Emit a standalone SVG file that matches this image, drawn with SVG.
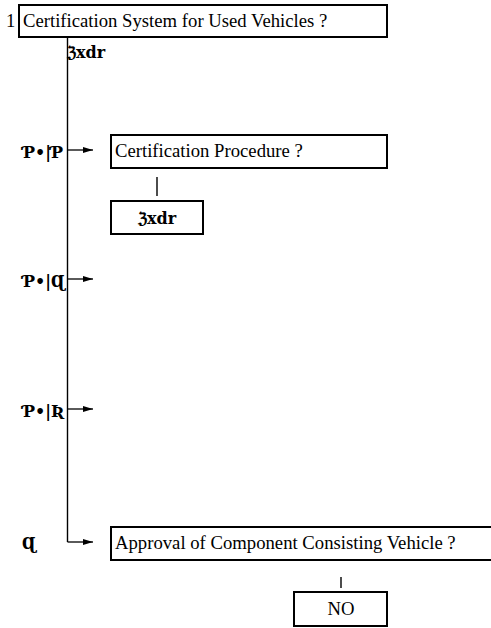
<svg xmlns="http://www.w3.org/2000/svg" width="491" height="628" viewBox="0 0 491 628">
  <defs>
    <marker id="head" viewBox="0 0 10 8" refX="10" refY="4" markerWidth="10" markerHeight="8" markerUnits="userSpaceOnUse" orient="auto">
      <path d="M0,1 L10,4 L0,7 Z" fill="#000"/>
    </marker>
  </defs>
  <style>
    .box { fill: #fff; stroke: #000; stroke-width: 2; }
    .txt { font-family: "Liberation Serif", "Times New Roman", serif; font-size: 18.7px; fill: #000; }
    .sym { font-family: "DejaVu Serif", "Liberation Serif", serif; font-size: 16px; font-weight: bold; fill: #000; }
    .wire { fill: none; stroke: #000; stroke-width: 1.4; }
    .arrow { fill: none; stroke: #000; stroke-width: 1.3; marker-end: url(#head); }
  </style>
  <rect width="491" height="628" fill="#fff"/>

  <!-- connectors -->
  <g id="connectors">
    <path class="wire" d="M67.5,37 V542"/>
    <path class="arrow" d="M67.5,542 H93"/>
    <path class="arrow" d="M67.5,150 H93"/>
    <path class="arrow" d="M67.5,279 H93"/>
    <path class="arrow" d="M67.5,409 H93"/>
    <path class="wire" d="M157,177 V196"/>
    <path class="wire" d="M341,577 V588"/>
  </g>

  <!-- root -->
  <g id="root">
    <text class="txt" x="6" y="27">1</text>
    <rect class="box" x="19" y="5" width="368" height="32"/>
    <text class="txt" x="23" y="27">Certification System for Used Vehicles ?</text>
    <text class="sym" x="67" y="58">ℨxdr</text>
  </g>

  <!-- branch labels -->
  <g id="label-1"><text class="sym" x="23" y="158">Ƥ•|Ƥ</text></g>
  <g id="label-2"><text class="sym" x="23" y="287">Ƥ•|Ɋ</text></g>
  <g id="label-3"><text class="sym" x="23" y="417">Ƥ•|Ʀ</text></g>
  <g id="label-4"><text class="sym" x="22" y="549">Ɋ</text></g>

  <!-- certification procedure -->
  <g id="procedure">
    <rect class="box" x="111" y="135" width="276" height="33"/>
    <text class="txt" x="115" y="157">Certification Procedure ?</text>
  </g>
  <g id="procedure-answer">
    <rect class="box" x="111" y="201" width="92" height="33"/>
    <text class="sym" x="157" y="224" text-anchor="middle">ℨxdr</text>
  </g>

  <!-- component approval -->
  <g id="approval">
    <rect class="box" x="111" y="527" width="400" height="33"/>
    <text class="txt" x="115" y="549">Approval of Component Consisting Vehicle ?</text>
  </g>
  <g id="approval-answer">
    <rect class="box" x="294" y="592" width="93" height="34"/>
    <text class="txt" x="341" y="615" text-anchor="middle">NO</text>
  </g>
</svg>
